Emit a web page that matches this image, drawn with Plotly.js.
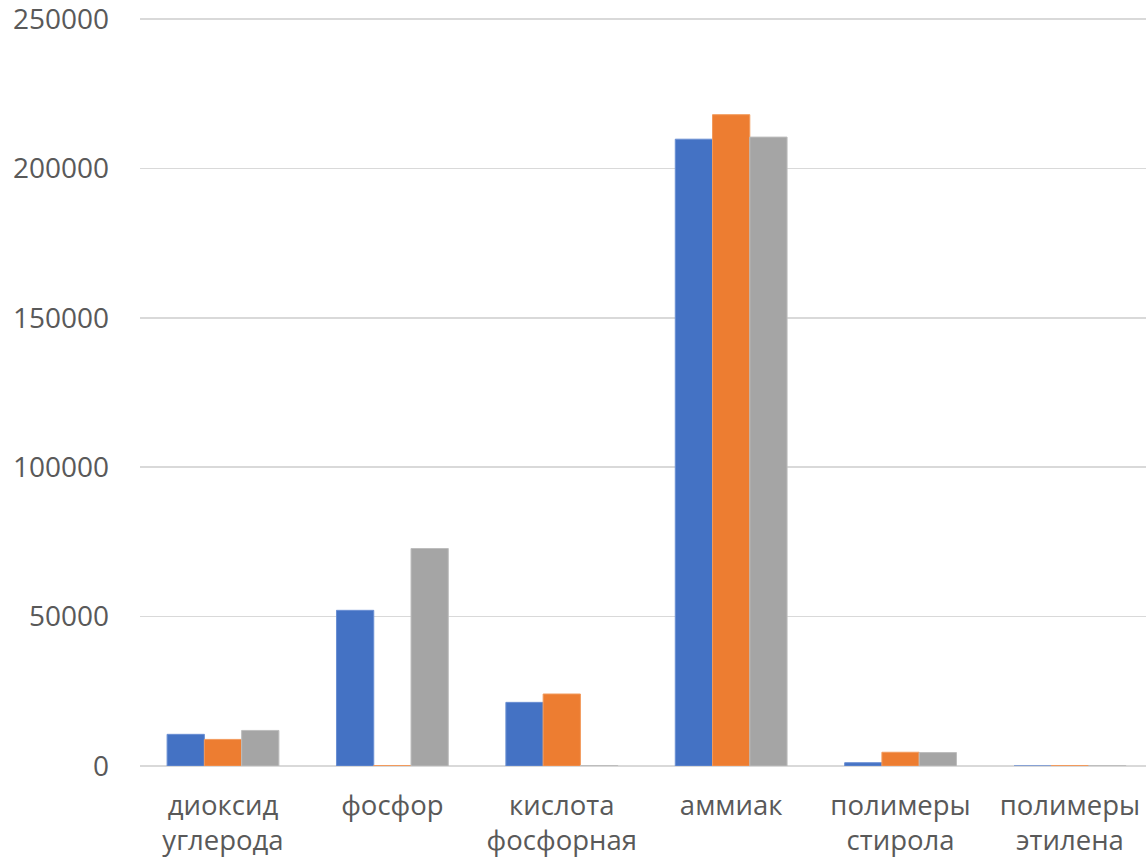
<!DOCTYPE html>
<html>
<head>
<meta charset="utf-8">
<script src="https://cdn.plot.ly/plotly-3.0.1.min.js"></script>
<style>
  html, body { margin: 0; padding: 0; background: #fff; }
  #chart { width: 1146px; height: 864px; }
</style>
</head>
<body>
<div id="chart"></div>
<script>
// Substance categories (two-line labels)
const categories = [
  "диоксид<br>углерода",
  "фосфор",
  "кислота<br>фосфорная",
  "аммиак",
  "полимеры<br>стирола",
  "полимеры<br>этилена"
];

// Three series of volumes per substance
const series1 = [10600, 52100, 21300, 209800, 1100, 0];
const series2 = [8900, 150, 24100, 218000, 4600, 150];
const series3 = [11900, 72800, 150, 210500, 4500, 100];

const yTicks = [0, 50000, 100000, 150000, 200000, 250000];

const colors = ["#4472C4", "#ED7D31", "#A5A5A5"];
const edges = ["#6a8fd3", "#f29a5c", "#bdbdbd"];

const traces = [series1, series2, series3].map((vals, i) => ({
  type: "bar",
  x: categories,
  y: vals,
  marker: { color: colors[i], line: { color: edges[i], width: 1 } },
  hoverinfo: "y"
}));

const layout = {
  width: 1146,
  height: 864,
  margin: { l: 140, r: 0, t: 17, b: 98 },
  paper_bgcolor: "#ffffff",
  plot_bgcolor: "#ffffff",
  showlegend: false,
  barmode: "group",
  bargap: 0.34,
  bargroupgap: 0,
  font: { family: "Open Sans, sans-serif", color: "#595959" },
  xaxis: {
    type: "category",
    range: [-0.49, 5.449],
    showgrid: false,
    showline: false,
    zeroline: false,
    ticks: "",
    tickfont: { size: 27.5, color: "#595959" },
    ticklabelstandoff: 20,
    ticklabeloverflow: "allow"
  },
  yaxis: {
    range: [0, 250700],
    tickvals: yTicks,
    ticktext: yTicks.map(String),
    showgrid: true,
    gridcolor: "#d9d9d9",
    gridwidth: 1.5,
    zeroline: true,
    zerolinecolor: "#d9d9d9",
    zerolinewidth: 2,
    showline: false,
    ticks: "",
    tickfont: { size: 28, color: "#595959" },
    ticklabelstandoff: 30,
    ticklabeloverflow: "allow"
  }
};

Plotly.newPlot("chart", traces, layout, { displayModeBar: false, staticPlot: true });
</script>
</body>
</html>
